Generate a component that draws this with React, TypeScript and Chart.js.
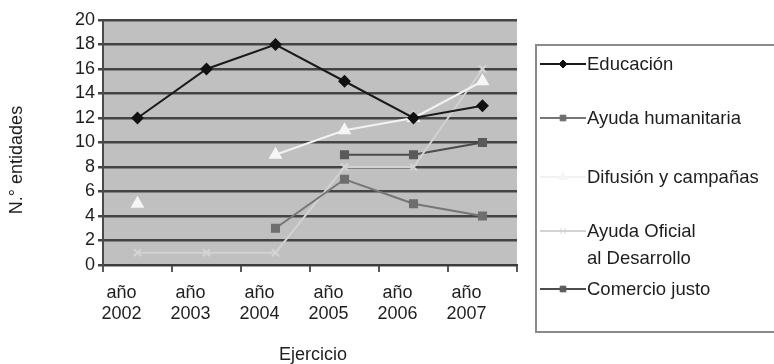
import React, { useEffect, useRef } from "react";
import { Chart, registerables } from "chart.js";
import { drawPoint } from "chart.js/helpers";

Chart.register(...registerables);

const categories: string[][] = [
  ["año", "2002"],
  ["año", "2003"],
  ["año", "2004"],
  ["año", "2005"],
  ["año", "2006"],
  ["año", "2007"],
];

const educacion = [12, 16, 18, 15, 12, 13];
const ayudaHumanitaria = [null, null, 3, 7, 5, 4];
const difusion = [5, null, 9, 11, 12, 15];
const ayudaOficial = [1, 1, 1, 8, 8, 16];
const comercioJusto = [null, null, null, 9, 9, 10];

const seriesNames: string[][] = [
  ["Educación"],
  ["Ayuda humanitaria"],
  ["Difusión y campañas"],
  ["Ayuda Oficial", "al Desarrollo"],
  ["Comercio justo"],
];

const yTicks = [0, 2, 4, 6, 8, 10, 12, 14, 16, 18, 20];
const yTitle = "N.° entidades";
const xTitle = "Ejercicio";

const FONT = "'Liberation Sans', Arial, sans-serif";
const TEXT = "#1e1e1e";

const styles = [
  { line: "#1a1a1a", fill: "#111111", point: "rectRot", radius: 5 },
  { line: "#767676", fill: "#6e6e6e", point: "rect", radius: 5 },
  { line: "#f2f2f2", fill: "#f6f6f6", point: "triangle", radius: 6 },
  { line: "#d2d2d2", fill: "#d4d4d4", point: "crossRot", radius: 5 },
  { line: "#4c4c4c", fill: "#5a5a5a", point: "rect", radius: 5 },
];

const legendRows = [64, 118, 177, 231, 289];

const decorPlugin = {
  id: "decor",
  beforeDraw(chart: any) {
    const { ctx, chartArea } = chart;
    ctx.save();
    ctx.fillStyle = "#ffffff";
    ctx.fillRect(0, 0, chart.width, chart.height);
    ctx.fillStyle = "#c0c0c0";
    ctx.fillRect(chartArea.left, chartArea.top, chartArea.right - chartArea.left, chartArea.bottom - chartArea.top);
    ctx.restore();
  },
  afterDraw(chart: any) {
    const { ctx } = chart;
    ctx.save();
    ctx.fillStyle = TEXT;
    ctx.font = `18px ${FONT}`;
    ctx.textAlign = "center";
    ctx.textBaseline = "middle";
    ctx.save();
    ctx.translate(17, 160);
    ctx.rotate(-Math.PI / 2);
    ctx.fillText(yTitle, 0, 0);
    ctx.restore();
    ctx.fillText(xTitle, 313, 355);

    ctx.fillStyle = "#ffffff";
    ctx.fillRect(536, 45, 250, 287);
    ctx.strokeStyle = "#8a8a8a";
    ctx.lineWidth = 2;
    ctx.strokeRect(536, 45, 250, 287);

    ctx.font = `18.5px ${FONT}`;
    ctx.textAlign = "left";
    seriesNames.forEach((lines, i) => {
      const y = legendRows[i];
      const st = styles[i];
      ctx.strokeStyle = st.line;
      ctx.lineWidth = 2;
      ctx.beginPath();
      ctx.moveTo(540, y);
      ctx.lineTo(586, y);
      ctx.stroke();
      ctx.fillStyle = st.fill;
      ctx.strokeStyle = st.fill;
      ctx.lineWidth = 1;
      drawPoint(ctx, { pointStyle: st.point, radius: st.radius - 1, rotation: 0, borderWidth: 1 } as any, 563, y);
      ctx.fillStyle = TEXT;
      lines.forEach((t, k) => ctx.fillText(t, 587, y + 1 + k * 27));
    });
    ctx.restore();
  },
};

export default function App() {
  const ref = useRef<HTMLCanvasElement>(null);
  useEffect(() => {
    if (!ref.current) return;
    const data = [educacion, ayudaHumanitaria, difusion, ayudaOficial, comercioJusto];
    const chart = new Chart(ref.current, {
      type: "line",
      data: {
        labels: categories,
        datasets: data.map((d, i) => ({
          label: seriesNames[i].join(" "),
          data: d,
          borderColor: styles[i].line,
          backgroundColor: styles[i].fill,
          pointBackgroundColor: styles[i].fill,
          pointBorderColor: styles[i].fill,
          pointStyle: styles[i].point as any,
          pointRadius: styles[i].radius,
          borderWidth: 2,
          tension: 0,
          spanGaps: false,
        })),
      },
      options: {
        responsive: false,
        animation: false,
        devicePixelRatio: 1,
        layout: { padding: { top: 20, right: 257, left: 0, bottom: 0 } },
        plugins: {
          legend: { display: false },
          tooltip: { enabled: false },
        },
        scales: {
          x: {
            offset: true,
            grid: {
              offset: true,
              drawOnChartArea: false,
              drawTicks: true,
              tickLength: 7,
              color: "#5a5a5a",
              lineWidth: 2,
            },
            border: { color: "#3c3c3c", width: 2 },
            ticks: {
              font: { family: FONT, size: 18 },
              color: TEXT,
              padding: 10,
              labelOffset: -16,
              maxRotation: 0,
              autoSkip: false,
            },
            afterFit: (s: any) => {
              s.height = 99;
            },
          },
          y: {
            min: 0,
            max: 20,
            afterBuildTicks: (s: any) => {
              s.ticks = yTicks.map((v) => ({ value: v }));
            },
            grid: {
              color: "#444444",
              lineWidth: 2.5,
              tickLength: 5,
            },
            border: { color: "#4a4a4a", width: 2 },
            ticks: {
              font: { family: FONT, size: 18 },
              color: TEXT,
              padding: 3,
              autoSkip: false,
            },
            afterFit: (s: any) => {
              s.width = 103;
            },
          },
        },
      },
      plugins: [decorPlugin],
    });
    return () => chart.destroy();
  }, []);
  return (
    <div style={{ position: "absolute", left: 0, top: 0, width: 774, height: 364 }}>
      <canvas ref={ref} width={774} height={364} style={{ display: "block" }} />
    </div>
  );
}
